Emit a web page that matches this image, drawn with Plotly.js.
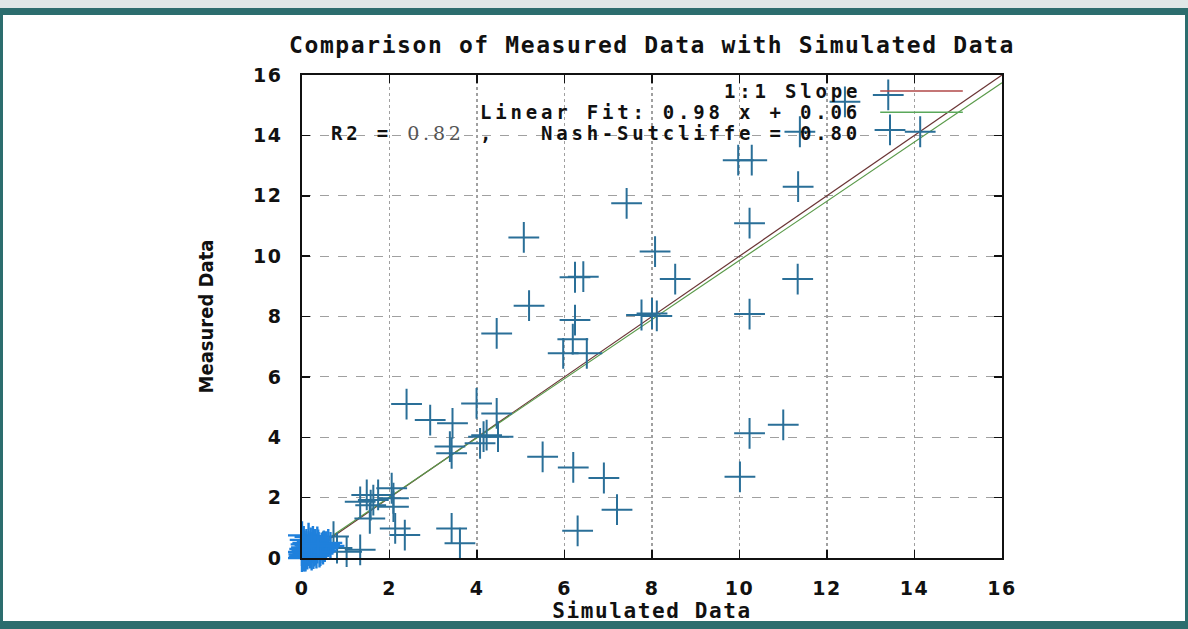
<!DOCTYPE html>
<html>
<head>
<meta charset="utf-8">
<script src="https://cdn.plot.ly/plotly-3.0.1.min.js"></script>
<style>
  html, body { margin: 0; padding: 0; background: #ffffff; }
  #wrap { position: relative; width: 1188px; height: 629px; overflow: hidden; background: #ffffff; }
  #chart { position: absolute; left: 0; top: 0; width: 1188px; height: 629px; }
  .band { position: absolute; pointer-events: none; }
  .annotation-text { letter-spacing: 3.8px; }
  .xtick text, .ytick text { letter-spacing: 1.5px; }
  .gtitle { letter-spacing: 1.6px; }
  .xtitle { letter-spacing: 1.6px; }
</style>
</head>
<body>
<div id="wrap">
  <div id="chart"></div>
  <div class="band" style="left:0;top:0;width:1188px;height:8px;background:#dfe7e7;"></div>
  <div class="band" style="left:0;top:8px;width:1188px;height:7px;background:#2c6d6e;"></div>
  <div class="band" style="left:0;top:8px;width:3px;height:621px;background:#2c6d6e;"></div>
  <div class="band" style="left:1185px;top:8px;width:3px;height:621px;background:#2c6d6e;"></div>
  <div class="band" style="left:0;top:621px;width:1188px;height:8px;background:#2c6d6e;"></div>
</div>
<script>
// ---- data ----
const titleText = "Comparison of Measured Data with Simulated Data";
const xTitleText = "Simulated Data";
const yTitleText = "Measured Data";
const tickValues = [0, 2, 4, 6, 8, 10, 12, 14, 16];

// scattered points (simulated, measured)
const simulated = [7.42, 5.07, 6.24, 6.43, 8.07, 8.53, 5.19, 4.45, 6.24, 6.19, 5.97, 6.51,
  7.76, 8.00, 8.11, 2.39, 2.93, 3.44, 3.99, 4.45, 4.22, 4.48, 3.38, 3.42, 4.15, 4.07,
  11.34, 10.23, 11.33, 10.23, 10.23, 11.00, 10.01, 9.97, 10.28, 12.41, 13.40, 11.38,
  13.44, 14.13, 5.50, 6.20, 6.90, 7.20, 6.30, 3.42, 3.61, 2.35, 2.13,
  1.33, 1.63, 1.74, 2.05, 2.09, 2.09, 1.48, 1.57, 1.55, 1.33, 1.02, 0.72, 0.48, 0.80];
const measured = [11.75, 10.62, 9.30, 9.32, 10.15, 9.24, 8.36, 7.44, 7.88, 7.25, 6.78, 6.78,
  8.05, 8.10, 8.02, 5.10, 4.57, 4.46, 5.12, 4.79, 4.07, 4.02, 3.69, 3.47, 4.02, 3.80,
  12.30, 11.09, 9.24, 8.08, 4.13, 4.41, 2.69, 13.18, 13.18, 15.11, 15.34, 14.12,
  14.18, 14.12, 3.35, 3.00, 2.65, 1.60, 0.90, 0.98, 0.49, 0.76, 0.98,
  1.86, 1.92, 2.09, 2.31, 1.98, 1.70, 2.09, 1.75, 1.31, 0.27, 0.21, 0.71, 0.37, 0.33];

// dense cluster near the origin
const clusterSim = [0.02, 0.05, 0.08, 0.10, 0.12, 0.15, 0.18, 0.20, 0.22, 0.25, 0.28, 0.30,
  0.32, 0.35, 0.38, 0.40, 0.42, 0.45, 0.48, 0.50, 0.52, 0.55, 0.60, 0.65, 0.03, 0.06,
  0.00, 0.00, 0.01, 0.04, 0.07, 0.10, 0.15, 0.20, 0.25, 0.30, 0.35, 0.00, 0.15, 0.05,
  0.12, 0.18, 0.26, 0.33, 0.42, 0.08, 0.22, 0.37];
const clusterMeas = [0.05, 0.10, 0.02, 0.15, 0.08, 0.20, 0.12, 0.25, 0.05, 0.30, 0.18, 0.22,
  0.35, 0.28, 0.40, 0.15, 0.30, 0.38, 0.25, 0.45, 0.33, 0.42, 0.50, 0.40, 0.30, 0.45,
  0.20, 0.00, 0.12, 0.60, 0.35, 0.50, 0.42, 0.55, 0.60, 0.50, 0.58, 0.75, 0.70, 0.02,
  0.28, 0.35, 0.10, 0.12, 0.20, 0.25, 0.40, 0.48];

// reference lines
const lineX = [0, 16];
const slopeOneY = [0, 16];
const fitSlope = 0.98, fitIntercept = 0.06;
const fitY = lineX.map(x => fitSlope * x + fitIntercept);

const legendLabels = ["1:1 Slope", "Linear Fit: 0.98 x + 0.06",
  "R2 = <span style=\"font-family:'DejaVu Serif';font-weight:normal;color:#555\">0.82</span> ,&nbsp;&nbsp;&nbsp;Nash-Sutcliffe = 0.80"];
const legendColors = ["#b04848", "#5aa85a", null];

// ---- plot ----
const markerColor = "#2a6f98";
const traces = [
  {x: lineX, y: slopeOneY, mode: "lines", line: {color: "#6a3434", width: 1.2}, hoverinfo: "skip", showlegend: false},
  {x: lineX, y: fitY, mode: "lines", line: {color: "#5a9a4a", width: 1.2}, hoverinfo: "skip", showlegend: false},
  {x: simulated, y: measured, mode: "markers", cliponaxis: false,
   marker: {symbol: "cross-thin", size: 22, line: {color: markerColor, width: 2}}, showlegend: false},
  {x: clusterSim, y: clusterMeas, mode: "markers", cliponaxis: false,
   marker: {symbol: "cross-thin", size: 20, line: {color: "#1f80dc", width: 2.4}}, showlegend: false}
];

const rowY = [0.967, 0.923, 0.880];
const annotations = legendLabels.map((t, i) => ({
  xref: "paper", yref: "paper", x: 0.802, y: rowY[i], xanchor: "right", yanchor: "middle",
  text: t, showarrow: false,
  font: {family: "DejaVu Sans Mono, monospace", size: 19, color: "#111", weight: "bold"}
}));
const shapes = [];
legendColors.forEach((c, i) => {
  if (!c) return;
  shapes.push({type: "line", xref: "paper", yref: "paper", x0: 0.826, x1: 0.944, y0: rowY[i], y1: rowY[i],
    line: {color: c, width: 1.5}});
});

const tickFont = {family: "DejaVu Sans, sans-serif", size: 19, color: "#111", weight: "bold"};
const layout = {
  width: 1188, height: 629,
  margin: {l: 302, r: 186, t: 75, b: 71, pad: 0},
  paper_bgcolor: "rgba(0,0,0,0)", plot_bgcolor: "#ffffff",
  title: {text: titleText, x: 0.5, xref: "paper", y: 1 - 45 / 629, yanchor: "middle",
    font: {family: "DejaVu Sans Mono, monospace", size: 23, color: "#111", weight: "bold"}},
  xaxis: {range: [0, 16], tickvals: tickValues, ticktext: tickValues.map(String),
    ticks: "inside", ticklen: 8, tickwidth: 1.5, tickcolor: "#111", mirror: "ticks",
    showline: true, linecolor: "#111", linewidth: 1.8,
    showgrid: true, gridcolor: "#a0a0a0", griddash: "dot", gridwidth: 1.2, zeroline: false,
    tickfont: tickFont, ticklabelstandoff: 12,
    title: {text: xTitleText, standoff: 4, font: {family: "DejaVu Sans Mono, monospace", size: 21, color: "#111", weight: "bold"}}},
  yaxis: {range: [0, 16], tickvals: tickValues, ticktext: tickValues.map(String),
    ticks: "inside", ticklen: 8, tickwidth: 1.5, tickcolor: "#111", mirror: "ticks",
    showline: true, linecolor: "#111", linewidth: 1.8,
    showgrid: true, gridcolor: "#a0a0a0", griddash: "dash", gridwidth: 1.2, zeroline: false,
    tickfont: tickFont, ticklabelstandoff: 14,
    title: {text: yTitleText, standoff: 34, font: {family: "DejaVu Sans Condensed, DejaVu Sans, sans-serif", size: 20, color: "#111", weight: "bold"}}},
  annotations: annotations,
  shapes: shapes,
  showlegend: false
};

Plotly.newPlot("chart", traces, layout, {displayModeBar: false, staticPlot: true});
</script>
</body>
</html>
